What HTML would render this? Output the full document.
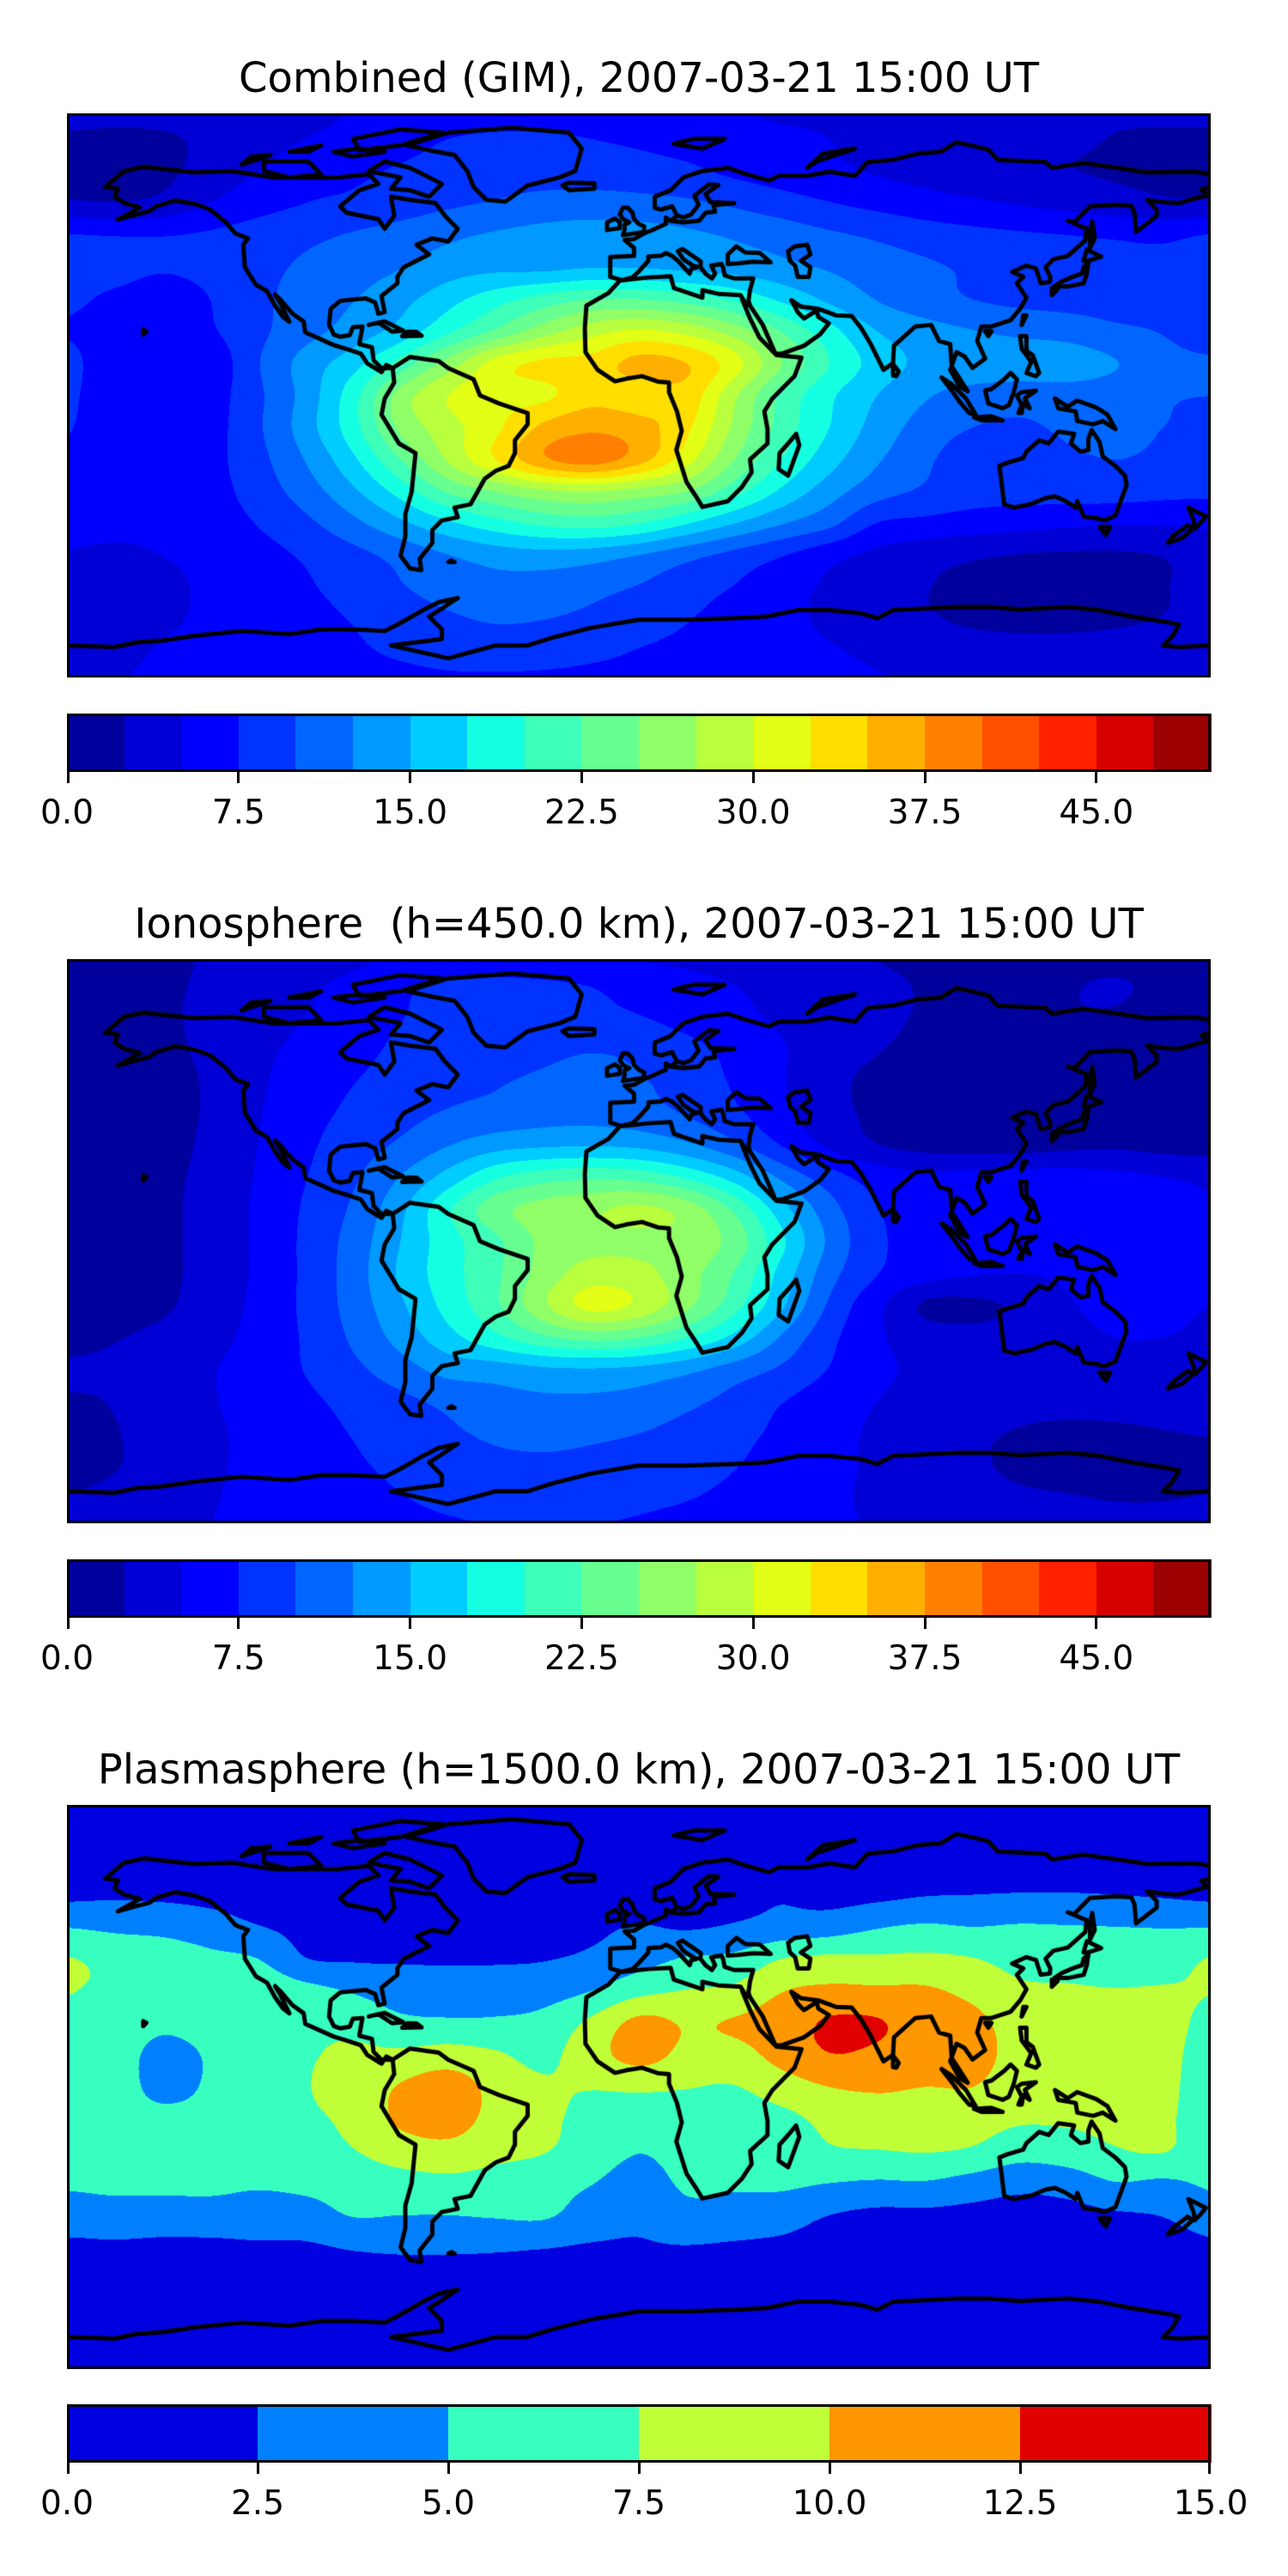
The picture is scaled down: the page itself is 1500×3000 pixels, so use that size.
<!DOCTYPE html>
<html><head><meta charset="utf-8">
<style>
html,body{margin:0;padding:0;background:#fff;}
body{width:1500px;height:3000px;position:relative;overflow:hidden;font-family:"DejaVu Sans","Liberation Sans",sans-serif;}
.title{position:absolute;left:0;width:1488px;text-align:center;font-size:48px;line-height:1;color:#000;white-space:nowrap;}
.map{position:absolute;left:78px;width:1332px;height:657px;}
.frame{position:absolute;left:78px;width:1332px;height:657px;box-sizing:border-box;border:3px solid #000;pointer-events:none;}
.cbar{position:absolute;left:78px;width:1332px;height:68px;}
.cbframe{position:absolute;left:0;top:0;width:1332px;height:68px;box-sizing:border-box;border:3px solid #000;}
.seg{position:absolute;top:0;height:68px;}
.tick{position:absolute;top:68px;width:3px;height:13px;background:#000;margin-left:-1.5px;}
.tlab{position:absolute;top:96px;font-size:39px;line-height:1;width:200px;margin-left:-100px;text-align:center;color:#000;}
</style></head>
<body>

<div class="title" style="top:67px">Combined (GIM), 2007-03-21 15:00 UT</div>
<canvas id="m0" class="map" width="1332" height="657" style="top:132px"></canvas>
<div class="frame" style="top:132px"></div>
<div id="c0" class="cbar" style="top:831px"></div>

<div class="title" style="top:1052px">Ionosphere&nbsp; (h=450.0 km), 2007-03-21 15:00 UT</div>
<canvas id="m1" class="map" width="1332" height="657" style="top:1117px"></canvas>
<div class="frame" style="top:1117px"></div>
<div id="c1" class="cbar" style="top:1816px"></div>

<div class="title" style="top:2037px">Plasmasphere (h=1500.0 km), 2007-03-21 15:00 UT</div>
<canvas id="m2" class="map" width="1332" height="657" style="top:2102px"></canvas>
<div class="frame" style="top:2102px"></div>
<div id="c2" class="cbar" style="top:2800px"></div>

<script>
// grid: lat rows 90..-90 step 10, lon cols -180..180 step 15
const gridLats = [90,80,70,60,50,40,30,20,10,0,-10,-20,-30,-40,-50,-60,-70,-80,-90];
const gridLons = [-180,-165,-150,-135,-120,-105,-90,-75,-60,-45,-30,-15,0,15,30,45,60,75,90,105,120,135,150,165,180];
const latTop = 88, latBottom = -88;

const gimLevels = [0,2.5,5,7.5,10,12.5,15,17.5,20,22.5,25,27.5,30,32.5,35,37.5,40,42.5,45,47.5,50];
const gimTicks = ["0.0","7.5","15.0","22.5","30.0","37.5","45.0"];
const gimTickValues = [0,7.5,15,22.5,30,37.5,45];
const plasmaLevels = [0,2.5,5,7.5,10,12.5,15];
const plasmaTicks = ["0.0","2.5","5.0","7.5","10.0","12.5","15.0"];
const plasmaTickValues = [0,2.5,5,7.5,10,12.5,15];

const gimTEC = [
[3.5,3.5,3.5,3.8,4,4.5,5,5.5,5.5,5.5,5.5,5.5,5,5,5,4.5,4.5,4,4,4,3.8,3.5,3,3,3],
[2.2,2.0,2.2,3.0,4,5,5.6,6.5,7.5,8,8,7.5,7,6.5,6,5.5,5,4.5,4,3.8,3.5,3,2.4,2.2,2.2],
[1.8,1.6,2.0,3.5,5.0,6.5,7.0,7.8,8.5,9,9,8.8,8.5,8,7,6.2,5.5,4.8,4.2,3.6,3.0,2.6,2.2,1.8,1.8],
[2.8,2.6,3.2,5.0,6.5,7.5,8.0,8.8,9.6,10.2,10.8,11,10.8,10.4,9.6,8.6,7.6,6.8,6.0,5.4,4.8,4.2,3.6,3.0,2.8],
[7.6,7.4,7.4,7.8,8.6,9.4,10.2,11,12,12.8,13.4,13.8,13.6,13,12.2,11.4,10.4,9.6,8.8,8.2,7.8,7.5,7.2,7.0,7.6],
[8.4,8,7.6,8,9.2,10.4,11.4,12.4,13.8,14.4,14.4,14.9,14.9,14.4,14,13.2,12.2,11.2,10.4,9.6,9,8.6,8.2,8,8.4],
[7.8,7.2,6.8,7.5,9.4,11,12.4,14.2,16.6,19,21,22.5,22.5,21.5,19.6,17,14.5,12.4,11,10,9.4,9,8.6,8.2,7.8],
[7.4,6.8,6.4,7.2,9.4,11.6,13.6,16,19.6,23,26.4,29,30.4,29.2,26.4,22.4,18.4,15,13.5,12.6,12,11.6,10.6,9.8,8],
[8,6.2,5.2,5.8,9.8,13.5,16.5,21,26,31,33,33.5,35.8,35,31,25,20,16.5,14.4,14,13.8,13.6,12.6,11,10.5],
[7.8,6.4,6.0,6.4,9.5,13.5,19,26,30,31.5,32,34,33.5,34,28,22,18,15,12.8,11.6,11.2,11.5,11.2,10.2,10],
[7.6,6.5,6.2,6.6,9.6,13.8,19,25.5,29,32,35.5,37,36,33,27,21.5,17.5,14,11.5,10,9.6,10.4,10.6,10,9.8],
[7.2,6.6,6.4,6.8,9.2,12.6,17,22.5,27.8,32.5,37,38.6,36,31,25,20,16,12.8,10.5,8.6,8.8,9.6,10,9.6,9.4],
[6.8,6.4,6.2,6.6,8.6,11.2,14.5,18.5,22.8,25,27,27.6,26.5,25,21,17,13.6,11,9.6,8.6,8.4,8.6,8.6,8.2,8],
[6,5.8,5.8,6.2,7.6,9.4,11.8,14.4,17,19,20.5,21,20,17.6,15,12.6,10.6,7.4,6.8,6.2,5.8,5.4,5.2,5.2,5.4],
[4.8,4.4,5,5.6,6.6,7.8,9.2,10.8,12.4,13.6,14,13.6,12.4,10.8,9.2,7.6,5.8,4.4,3.4,2.8,2.4,2.2,2.2,2.6,3.6],
[3.6,3.4,4.4,5.4,6.2,7.2,8.4,9.8,11,11.6,11.4,10.8,9.8,8.6,7.4,6,4.6,3.4,2.6,2.0,1.8,1.8,2.0,2.4,3.2],
[3.4,3.6,4.6,5.4,6,6.8,7.6,8.6,9.6,10.2,10,9.4,8.4,7.6,6.6,5.6,4.6,3.6,2.8,2.2,2.0,2.0,2.2,2.6,3.2],
[4,4.4,5.2,5.8,6.2,6.8,7.2,7.8,8.4,8.6,8.4,8,7.4,7,6.4,5.8,5.2,4.6,4.0,3.6,3.4,3.4,3.6,3.8,4],
[5,5,5.4,5.8,6,6.4,6.6,6.8,7,7,7,6.8,6.6,6.4,6.2,6,5.6,5.2,5,4.8,4.6,4.6,4.6,4.8,5]
];

const ionoTEC = [
[2,2,2.2,2.6,3,3.6,4.2,5,5.4,5.6,5.4,5,4.6,4.2,3.8,3.2,2.8,2.4,2.2,2,2,2,2,2,2],
[1.8,1.8,2.2,2.8,3.6,4.6,5.6,7,7.8,8,7.8,7.4,6.6,5.8,5,4.2,3.4,2.8,2.4,2.2,2.2,2.4,2.6,2.2,1.8],
[1.8,1.8,2.2,3.0,4.0,5.0,6.0,7.4,8.2,8.4,8.2,8.0,7.6,6.6,5.6,4.6,3.6,2.8,2.4,2.2,2.2,2.4,2.4,2,1.8],
[1.6,1.6,2.0,3.0,4.4,5.6,6.6,8.0,8.8,9.2,9.4,9.8,9.4,8.2,6.8,5.2,3.6,2.6,2.2,2.0,2.0,2.0,2.2,1.8,1.6],
[1.6,1.6,1.8,2.8,4.6,6.2,7.4,8.6,9.4,9.8,10.4,11,10.2,9.0,7.2,5.2,3.2,2.0,1.8,1.8,1.8,1.8,2.0,1.8,1.6],
[1.6,1.6,1.8,2.8,4.8,6.6,8.0,9.2,10.2,10.8,11.4,11.6,11.0,9.8,8.0,5.6,3.4,2.0,1.6,1.6,1.6,1.8,2.0,1.8,1.6],
[1.6,1.6,1.8,3.0,5.0,7.0,8.8,10.4,12.4,14,14.6,14.8,14.4,13,10.6,7.4,4.6,2.6,1.8,1.6,1.6,2.0,2.2,1.8,1.6],
[1.6,1.6,2.0,3.2,5.2,7.4,9.6,12.6,16,19.6,21.4,22,21.6,19.6,16.4,12,8.6,6.4,5.6,5.8,6,6,5.6,5,4.6],
[1.6,1.6,2.0,3.4,5.4,7.8,10.4,14.4,19.6,24,26,27,28,26.4,22,16,11,7.6,6.4,6.4,6.6,6.6,6.2,5.6,5],
[1.6,1.6,2.0,3.4,5.4,8.0,11,15,19,22,25.6,26.6,26.8,26.6,24,18,12,8,6.6,6.4,6.4,6.6,6.4,5.8,5.2],
[1.6,1.6,2.0,3.4,5.4,8.0,11.2,15.4,19,22,26,28.6,28.2,26,22.4,16.6,11,7.6,6,5.2,5.0,5.4,5.8,5.4,5],
[1.8,1.8,2.2,3.6,5.6,8.0,11,14.6,18.4,22,27,30.8,29.4,25.6,21,15.4,9.6,5.6,2.2,2.0,3.0,4.8,5.4,5.2,5],
[2.2,2.4,3,4.2,5.8,7.8,10.4,13.4,16.6,19.4,22,23.4,22.6,20.2,16.8,12.2,8.2,5.4,3.8,3.2,3.6,4.4,5.0,5,4.8],
[2.6,2.8,3.6,4.8,6.0,7.6,9.4,11.4,13.4,13.8,14.6,14.8,14.4,13.2,11.4,9.6,7.4,5.6,4.4,3.8,3.6,3.8,4.2,4.4,4.4],
[2.4,2.6,3.6,4.8,5.8,7.0,8.2,9.4,10.6,11.6,12,12,11.6,10.6,9.2,7.6,6.2,5,4,3.4,3.0,3.0,3.2,3.4,3.6],
[2.0,2.4,3.4,4.6,5.6,6.6,7.6,8.6,9.6,10.4,10.6,10.4,10,9.2,8.2,7,5.8,4.6,3.6,2.8,2.4,2.2,2.2,2.4,2.6],
[2.0,2.4,3.4,4.6,5.6,6.4,7.2,8.0,8.8,9.4,9.6,9.4,9.0,8.4,7.6,6.6,5.6,4.6,3.6,2.8,2.2,2.0,2.0,2.0,2.0],
[2.6,3,3.8,4.8,5.6,6.2,6.8,7.4,8,8.4,8.6,8.4,8.0,7.6,7.0,6.2,5.4,4.6,3.8,3.2,2.8,2.6,2.4,2.4,2.6],
[3.4,3.6,4.2,5,5.6,6,6.4,6.8,7.2,7.4,7.4,7.4,7.2,6.8,6.4,6,5.4,4.8,4.2,3.8,3.6,3.4,3.4,3.4,3.4]
];

// plasmasphere stored per longitude column (lat 90..-90)
const plasmaCols = [
[.5,.8,1.2,2.0,4.9,7.6,7.55,7.0,6.5,6.3,6.2,6.0,5.3,3.8,2.0,1.2,.8,.5,.4],
[.5,.8,1.3,2.2,4.5,6.8,7.2,6.8,6.2,6.0,6.0,6.0,5.5,4.0,2.1,1.2,.8,.5,.4],
[.5,.8,1.3,2.1,4.2,6.5,6.8,5.6,4.2,4.4,5.6,6.2,5.6,3.8,2.0,1.2,.8,.5,.4],
[.5,.8,1.2,1.9,3.5,5.6,6.5,6.2,5.3,5.3,5.8,6.2,5.6,3.9,2.0,1.2,.8,.5,.4],
[.5,.8,1.1,1.6,2.6,5.0,6.8,7.0,6.8,6.6,6.6,6.4,5.3,3.8,2.2,1.2,.8,.5,.4],
[.5,.7,1.0,1.4,1.9,2.6,5.8,7.0,7.3,7.4,7.2,6.8,5.6,4.0,2.2,1.2,.8,.5,.4],
[.5,.7,1.0,1.3,1.7,2.3,4.8,6.8,7.9,8.3,8.0,7.4,6.0,5.1,2.7,1.3,.8,.5,.4],
[.5,.7,1.0,1.3,1.7,2.3,3.8,5.6,8.0,10.2,10.4,8.7,6.5,5.0,2.9,1.4,.8,.5,.4],
[.5,.7,1.0,1.3,1.7,2.3,3.5,5.4,8.6,11.2,11.0,9.2,6.8,5.0,2.9,1.4,.8,.5,.4],
[.5,.7,1.0,1.3,1.7,2.3,3.6,5.4,7.8,9.2,9.2,8.2,6.5,5.2,2.8,1.4,.8,.5,.4],
[.5,.7,1.0,1.4,1.9,2.4,4.0,5.8,6.9,7.8,7.9,7.6,6.0,5.3,2.6,1.4,.8,.5,.4],
[.5,.7,1.0,1.5,2.1,2.9,5.0,8.0,9.0,7.6,7.0,6.5,5.1,3.8,2.3,1.4,.8,.5,.4],
[.5,.7,1.1,1.7,2.6,4.0,6.8,10.6,10.8,7.9,6.0,5.1,3.8,2.9,2.3,1.4,.8,.5,.4],
[.5,.7,1.2,2.0,2.3,5.2,7.6,9.8,9.4,7.6,6.5,6.0,5.4,4.2,2.4,1.4,.8,.5,.4],
[.5,.7,1.3,2.0,2.7,5.6,8.0,10.2,9.2,7.4,6.2,5.8,5.3,4.0,2.2,1.4,.8,.5,.4],
[.5,.8,1.4,2.3,3.3,7.5,9.9,11.2,10.8,8.8,6.8,6.0,5.4,3.5,2.0,1.3,.8,.5,.4],
[.5,.8,1.5,1.8,3.8,8.0,10.5,12.8,12.4,10.0,8.2,7.2,5.0,2.5,1.6,1.1,.8,.5,.4],
[.5,.8,1.6,2.0,4.8,7.9,10.4,12.7,12.0,10.3,8.8,7.4,4.7,2.0,1.6,1.1,.8,.5,.4],
[.5,.9,1.7,2.4,5.3,8.0,10.3,11.2,11.0,10.0,8.6,7.6,4.8,2.0,1.4,1.0,.8,.5,.4],
[.5,.9,1.7,2.5,5.0,7.6,9.4,10.6,10.8,10.0,8.5,7.2,4.0,1.8,1.3,1.0,.8,.5,.4],
[.5,.9,1.8,2.6,5.2,6.6,8.0,9.0,9.2,8.8,7.8,6.0,3.2,1.6,1.2,1.0,.8,.5,.4],
[.5,.9,1.8,2.6,5.1,6.4,7.8,8.6,8.7,8.5,7.8,6.4,3.6,1.7,1.2,1.0,.8,.5,.4],
[.5,.9,1.8,2.5,5.0,6.3,7.6,8.5,8.6,8.5,8.0,7.3,4.9,2.2,1.2,1.0,.8,.5,.4],
[.5,.9,1.7,2.3,4.9,6.4,7.7,8.2,8.2,8.1,7.9,7.6,4.6,2.6,1.3,1.0,.8,.5,.4],
[.5,.8,1.2,2.0,4.9,7.6,7.55,7.0,6.5,6.3,6.2,6.0,5.3,3.8,2.0,1.2,.8,.5,.4]
];

// coastlines [lon,lat]
const coasts = [
[[-168,65],[-162,70],[-156,71.3],[-140,69.6],[-128,70],[-115,68],[-95,68],[-85,69],[-82,66],[-88,64],[-94,59],[-92,57],[-82,55],[-80,52],[-77,56],[-78,62],[-72,61],[-64,60],[-61,56],[-57,52],[-60,48],[-65,49],[-70,47],[-66,44],[-70,42],[-74,40],[-76,37],[-76,35],[-81,31],[-80,26],[-82,25.5],[-83,29],[-86,30.3],[-89,30],[-94,29.5],[-97,27],[-97.5,22],[-96,19],[-94,18.3],[-91,18.8],[-90,21.3],[-87,21.5],[-88,16],[-84,15],[-83.5,11],[-81,8.5],[-77.5,8.5],[-79.5,9.5],[-81,7.3],[-85.5,10],[-87.5,13],[-92,14.5],[-96,15.7],[-105,19.7],[-105.5,23],[-109,25.5],[-112.5,29.5],[-114.5,31.5],[-113,29],[-110,23],[-112,24.5],[-114.5,28],[-117,32.5],[-120.5,34.5],[-124,40],[-124.5,47],[-123,49],[-127,50.5],[-130,54],[-135,58],[-140,59.8],[-146,60.8],[-152,59],[-154,57.5],[-158,56.5],[-164,54.8],[-157,58.7],[-162,60],[-165,62],[-164,64.5],[-168,65]],
[[-73,78],[-60,82],[-40,83.5],[-22,82],[-18,77],[-20,70],[-25,68],[-35,65.5],[-42,60.5],[-48,61],[-52,65],[-54,70],[-58,75],[-66,76.5],[-73,78]],
[[-80,73],[-72,71],[-62,66],[-66,62],[-72,64],[-78,64.5],[-75,68],[-85,70],[-80,73]],
[[-118,73],[-104,73],[-100,69],[-110,68],[-118,70],[-118,73]],
[[-90,80],[-75,83],[-62,82],[-75,78],[-88,76.5],[-90,80]],
[[-125,72],[-116,75],[-122,74.5],[-125,72]],
[[-96,76],[-88,77],[-80,76],[-90,74.5],[-96,76]],
[[-110,76],[-100,78],[-104,76],[-110,76]],
[[-85,22],[-80,23.1],[-74.2,20.2],[-77.7,19.9],[-82,22.7],[-85,22]],
[[-74.5,18.5],[-68.4,18.6],[-70,19.8],[-72.8,19.9],[-74.5,18.5]],
[[-156,19],[-155,20],[-156,20.5],[-156,19]],
[[-77.5,8.5],[-72,12],[-63,10.7],[-60,8.5],[-52,5],[-50,0],[-44,-2.5],[-35,-5.5],[-35,-9],[-39,-14],[-39,-18],[-41,-22],[-45,-23.5],[-48.5,-26],[-53,-34],[-58,-35],[-57,-38],[-62,-39],[-65,-42],[-65,-46],[-69,-51],[-68.5,-54.5],[-72,-54],[-75,-50],[-73.5,-44],[-73.5,-37],[-71.5,-30],[-70.3,-18],[-75.5,-15],[-81,-6],[-80,-1],[-77,4],[-77.5,8.5]],
[[-59,-51.5],[-58,-52],[-60,-52],[-59,-51.5]],
[[-17,21],[-16.5,28],[-9.5,32],[-6,35.8],[3,36.8],[10,37.2],[11,33.5],[20,30.5],[20,32.8],[25,31.7],[32,31.3],[34,28],[32.5,30],[35,24],[38,18],[43.3,12.6],[51.2,11.8],[49,6],[42,-1],[39.5,-5],[40.5,-10.5],[40.5,-15],[35,-20],[35.5,-24],[32.5,-28.5],[28,-33],[20,-34.8],[18.3,-32],[15,-27],[11.8,-17],[13.5,-11],[12,-5],[9.5,1],[9.5,4],[6,4.3],[1,6],[-4,5.2],[-7.5,4.4],[-13,8],[-16.8,13.5],[-17,21]],
[[49.5,-12],[50.5,-15.5],[47,-25],[44,-23],[44.3,-18],[47,-15],[49.5,-12]],
[[26,41],[26.5,40],[27,37.5],[30,36.5],[36,36.5],[35,33],[34.5,29.5],[35,28],[39,22],[43,13],[45,13],[52,15.5],[57,19],[59.8,22.5],[56.5,24.5],[56,26.5],[52,24],[50,26],[48,29.7],[51,27.7],[56.5,27],[62,25],[67,24.8],[70,21],[73,16],[77,8],[80,10],[80.3,15.5],[87,21.5],[92,22],[94.5,17],[98,16],[98.5,9],[100.5,6],[103.5,1.3],[101,2.7],[98,8],[100,13.5],[102.5,12.2],[105,8.6],[109,11.5],[106.5,17],[107.8,21.5],[111,21.5],[117,23.5],[120,27],[122,30.5],[121,32],[119,35],[121,37],[117.5,38.5],[122,40.5],[125,39.6],[126.5,35],[129.4,35.4],[129.5,37],[128,40],[130.5,42.5],[135,43.5],[140.5,48.3],[141,52],[135,54.5],[137,54],[142,59],[150,59.5],[155,59.2],[156,57],[156.5,51],[163,56],[163,58],[160,61],[166,60.2],[170,60],[179,62.5],[177,64.3],[180,65],[180,69],[175,69.8],[160,69.6],[152,70.8],[140,72.5],[130,71],[128,72.8],[113,73.5],[110,76.7],[100,79],[95,76],[88,75.5],[80,73.5],[72,72.8],[68,68.5],[60,69.8],[53,68.5],[44,68.5],[41,67],[33,69.3],[28,71],[20,70],[14,68],[10,64],[5,62],[5,58.5],[7,58],[10.5,59],[12,56],[10,54.5],[8.5,55.5],[8.5,53.5],[4,51.5],[1.5,50.5],[-1.5,48.8],[-4.5,48.5],[-1.5,46],[-1.5,43.5],[-9,43.2],[-9,37],[-5.5,36],[-2,36.8],[0,38.7],[3,42],[3,43.3],[7,43.6],[8.5,44.4],[10.5,43.5],[12.5,41.8],[16,38],[16.5,39.5],[18.5,40.1],[17,40.5],[14,42.5],[12.3,45],[13.7,45.7],[19.5,41.8],[19.4,40],[21,38],[23,36.5],[24,38],[22.8,40.5],[26,41]],
[[10,54.5],[14,54],[19,54.5],[21,57],[24,57.3],[23.5,59.3],[30,60],[22.5,60.3],[21,62.8],[25,65.6],[22,65.8],[17.5,62.3],[18.8,59.5],[16.5,56.5],[14,55.5],[12.5,56]],
[[28,41],[28,44],[30.7,46.5],[33.5,44.6],[38,44.5],[41.5,41.5],[36,41.7],[31,41.2],[28,41]],
[[47,45],[49,46.5],[53,47],[54,44],[51,42],[54,40],[53.5,37],[50,37],[49.2,40.5],[47.5,42],[47,45]],
[[-5,50],[1.5,51],[1.7,52.7],[0,53.5],[-1.5,55],[-2,57],[-3.5,58.6],[-5,58.6],[-6,56.5],[-5,55],[-3,54],[-4.5,53.3],[-4.5,51.7],[-5,50]],
[[-6,52.2],[-6,54],[-7.5,55.2],[-10,54],[-10,51.6],[-6,52.2]],
[[-22,64],[-14,64.5],[-14,66.2],[-22,66.4],[-24,65.5],[-22,64]],
[[53,71],[58,75.5],[68,77],[56,73],[53,71]],
[[11,78.5],[17,80],[27,80],[20,77],[11,78.5]],
[[130.8,34],[135,34],[140,35],[141,38],[141.5,41.5],[140,40],[139.5,38],[136.5,37],[133,35.5],[130.8,34]],
[[140,42],[141,45.5],[145.5,43.3],[141.5,42],[140,42]],
[[130,31.3],[131.8,33],[130,33.5],[130,31.3]],
[[142,46],[143.5,49],[142.7,54.3],[142,51],[142,46]],
[[120.5,22],[122,25],[121,25],[120.5,22]],
[[110,18.5],[111,20],[109,20],[110,18.5]],
[[120,18.5],[122,18.5],[122,14],[124,12.5],[126,7],[125,6],[122,7],[123.5,10.5],[120.5,14.5],[120,18.5]],
[[109,1.5],[110,-2.5],[114.5,-4],[116.5,-3],[118,1],[119,5],[117,7],[115,5],[111,2],[109,1.5]],
[[95.3,5.6],[98.5,3.5],[103,-1],[106,-6],[104,-5.5],[101,-2],[98.5,1.5],[95.3,5.6]],
[[105.5,-6.8],[111,-6.5],[114.5,-7.8],[108,-7.8],[105.5,-6.8]],
[[119.5,-5.5],[120.5,-3],[119,0],[120.5,1],[125,1.5],[121.5,-0.9],[123,-4],[121,-2.5],[120.5,-5.5],[119.5,-5.5]],
[[131,-1],[135,-3.5],[138,-1.6],[144,-3.8],[147.5,-6],[150,-10.5],[146,-8],[143,-9],[138,-8],[137.5,-5],[132,-4],[131,-1]],
[[113.5,-22],[114,-26],[115,-34],[118,-35],[123.5,-33.9],[128,-32],[131,-31.5],[134,-32.8],[137.5,-35],[138,-33],[140,-37.8],[144,-38.3],[146.5,-39],[150,-37.5],[153.5,-28],[153,-25],[150,-22],[146,-19],[145,-14.5],[142.5,-10.8],[141.5,-13.5],[141.5,-17],[139,-17.5],[136,-15],[137,-12],[132,-11.3],[129,-15],[126,-14],[122,-17.5],[121,-19.5],[116,-21],[113.5,-22]],
[[145,-41],[148.3,-41],[147,-43.5],[145,-41]],
[[173,-35],[178.5,-37.7],[177,-39.5],[175,-41.5],[174.6,-39],[173,-35]],
[[172.7,-40.5],[174.3,-41.5],[171,-44.5],[166.5,-46],[168,-44],[172.7,-40.5]],
[[80,9.8],[81.8,7.5],[81,6],[80,6.2],[80,9.8]],
[[-180,-78],[-165,-78.5],[-158,-77],[-150,-76.5],[-140,-75],[-125,-73.5],[-110,-74.5],[-100,-73],[-90,-73],[-80,-73.5],[-75,-71],[-68,-67],[-63,-64.5],[-57,-63.2],[-59,-64.5],[-62,-66.5],[-66,-69],[-62,-73],[-62,-76],[-70,-77],[-78,-78],[-60,-82],[-45,-78],[-35,-78],[-27,-75.5],[-15,-72.5],[0,-70],[15,-70],[30,-69.5],[40,-69],[50,-67],[60,-67],[70,-68],[75,-69.5],[80,-67],[90,-66.5],[100,-66],[110,-66],[120,-66.8],[135,-66],[145,-67],[155,-69],[165,-70.5],[170,-71.5],[168,-75],[165,-78],[170,-78.5],[180,-78]]
];

function lerpTab(x, xs, ys){
  if (x <= xs[0]) return ys[0];
  for (let i=1;i<xs.length;i++){ if (x <= xs[i]) { const t=(x-xs[i-1])/(xs[i]-xs[i-1]); return ys[i-1]+t*(ys[i]-ys[i-1]); } }
  return ys[ys.length-1];
}
function jet(x){
  const r = lerpTab(x,[0,.35,.66,.89,1],[0,0,1,1,.5]);
  const g = lerpTab(x,[0,.125,.375,.64,.91,1],[0,0,1,1,0,0]);
  const b = lerpTab(x,[0,.11,.34,.65,1],[.5,1,1,0,0]);
  return [Math.round(r*255),Math.round(g*255),Math.round(b*255)];
}
function levelColors(levels){
  const n = levels.length-1, out=[];
  for (let i=0;i<n;i++) out.push(jet((i+0.5)/n));
  return out;
}
function cr(p0,p1,p2,p3,t){
  return p1 + 0.5*t*(p2-p0 + t*(2*p0-5*p1+4*p2-p3 + t*(3*(p1-p2)+p3-p0)));
}
function sample(G, fr, fc){
  const R=G.length, C=G[0].length;
  const r=Math.floor(fr), c=Math.floor(fc), tr=fr-r, tc=fc-c;
  const rows=[];
  for (let k=-1;k<=2;k++){
    const rr=Math.min(R-1,Math.max(0,r+k)); const row=G[rr];
    const v=[];
    for (let m=-1;m<=2;m++){ v.push(row[Math.min(C-1,Math.max(0,c+m))]); }
    rows.push(cr(v[0],v[1],v[2],v[3],tc));
  }
  return cr(rows[0],rows[1],rows[2],rows[3],tr);
}
function drawMap(id, G, levels){
  const cv=document.getElementById(id), ctx=cv.getContext('2d');
  const W=cv.width, H=cv.height, img=ctx.createImageData(W,H), d=img.data;
  const cols=levelColors(levels), n=cols.length, step=levels[1]-levels[0];
  const lonStep=gridLons[1]-gridLons[0], latStep=gridLats[0]-gridLats[1];
  for (let y=0;y<H;y++){
    const lat = latTop - (latTop-latBottom)*(y+0.5)/H;
    const fr = (gridLats[0]-lat)/latStep;
    for (let x=0;x<W;x++){
      const lon = gridLons[0] + (gridLons[gridLons.length-1]-gridLons[0])*(x+0.5)/W;
      const fc = (lon-gridLons[0])/lonStep;
      const v = sample(G, fr, fc);
      let i = Math.floor((v-levels[0])/step); if (i<0) i=0; if (i>n-1) i=n-1;
      const c=cols[i], o=(y*W+x)*4;
      d[o]=c[0]; d[o+1]=c[1]; d[o+2]=c[2]; d[o+3]=255;
    }
  }
  ctx.putImageData(img,0,0);
  ctx.strokeStyle='#000'; ctx.lineWidth=5; ctx.lineJoin='round'; ctx.lineCap='round';
  const px = lon => (lon+180)/360*W;
  const py = lat => (latTop-lat)/(latTop-latBottom)*H;
  coasts.forEach(poly=>{
    ctx.beginPath();
    poly.forEach((p,k)=>{ if(k===0) ctx.moveTo(px(p[0]),py(p[1])); else ctx.lineTo(px(p[0]),py(p[1])); });
    ctx.stroke();
  });
}
function drawBar(id, levels, tickVals, tickLabels){
  const el=document.getElementById(id), W=1332;
  const cols=levelColors(levels), lo=levels[0], hi=levels[levels.length-1];
  const xs = v => (v-lo)/(hi-lo)*W;
  for (let i=0;i<cols.length;i++){
    const s=document.createElement('div');
    
    
    s.className='seg';
    s.style.left=xs(levels[i])+'px';
    s.style.width=(xs(levels[i+1])-xs(levels[i])+0.6)+'px';
    s.style.background='rgb('+cols[i].join(',')+')';
    el.appendChild(s);
  }
  const f=document.createElement('div');
  
  
  f.className='cbframe'; el.appendChild(f);
  tickVals.forEach((v,k)=>{
    const t=document.createElement('div');
    
    
    t.className='tick'; t.style.left=Math.min(W-1.5,Math.max(1.5,xs(v)))+'px'; el.appendChild(t);
    const l=document.createElement('div');
    
    
    l.className='tlab'; l.style.left=xs(v)+'px'; l.textContent=tickLabels[k]; el.appendChild(l);
  });
}
const plasmaTEC = gridLats.map((_,r)=>plasmaCols.map(col=>col[r]));
drawMap('m0', gimTEC, gimLevels);
drawMap('m1', ionoTEC, gimLevels);
drawMap('m2', plasmaTEC, plasmaLevels);
drawBar('c0', gimLevels, gimTickValues, gimTicks);
drawBar('c1', gimLevels, gimTickValues, gimTicks);
drawBar('c2', plasmaLevels, plasmaTickValues, plasmaTicks);
</script>
</body></html>
